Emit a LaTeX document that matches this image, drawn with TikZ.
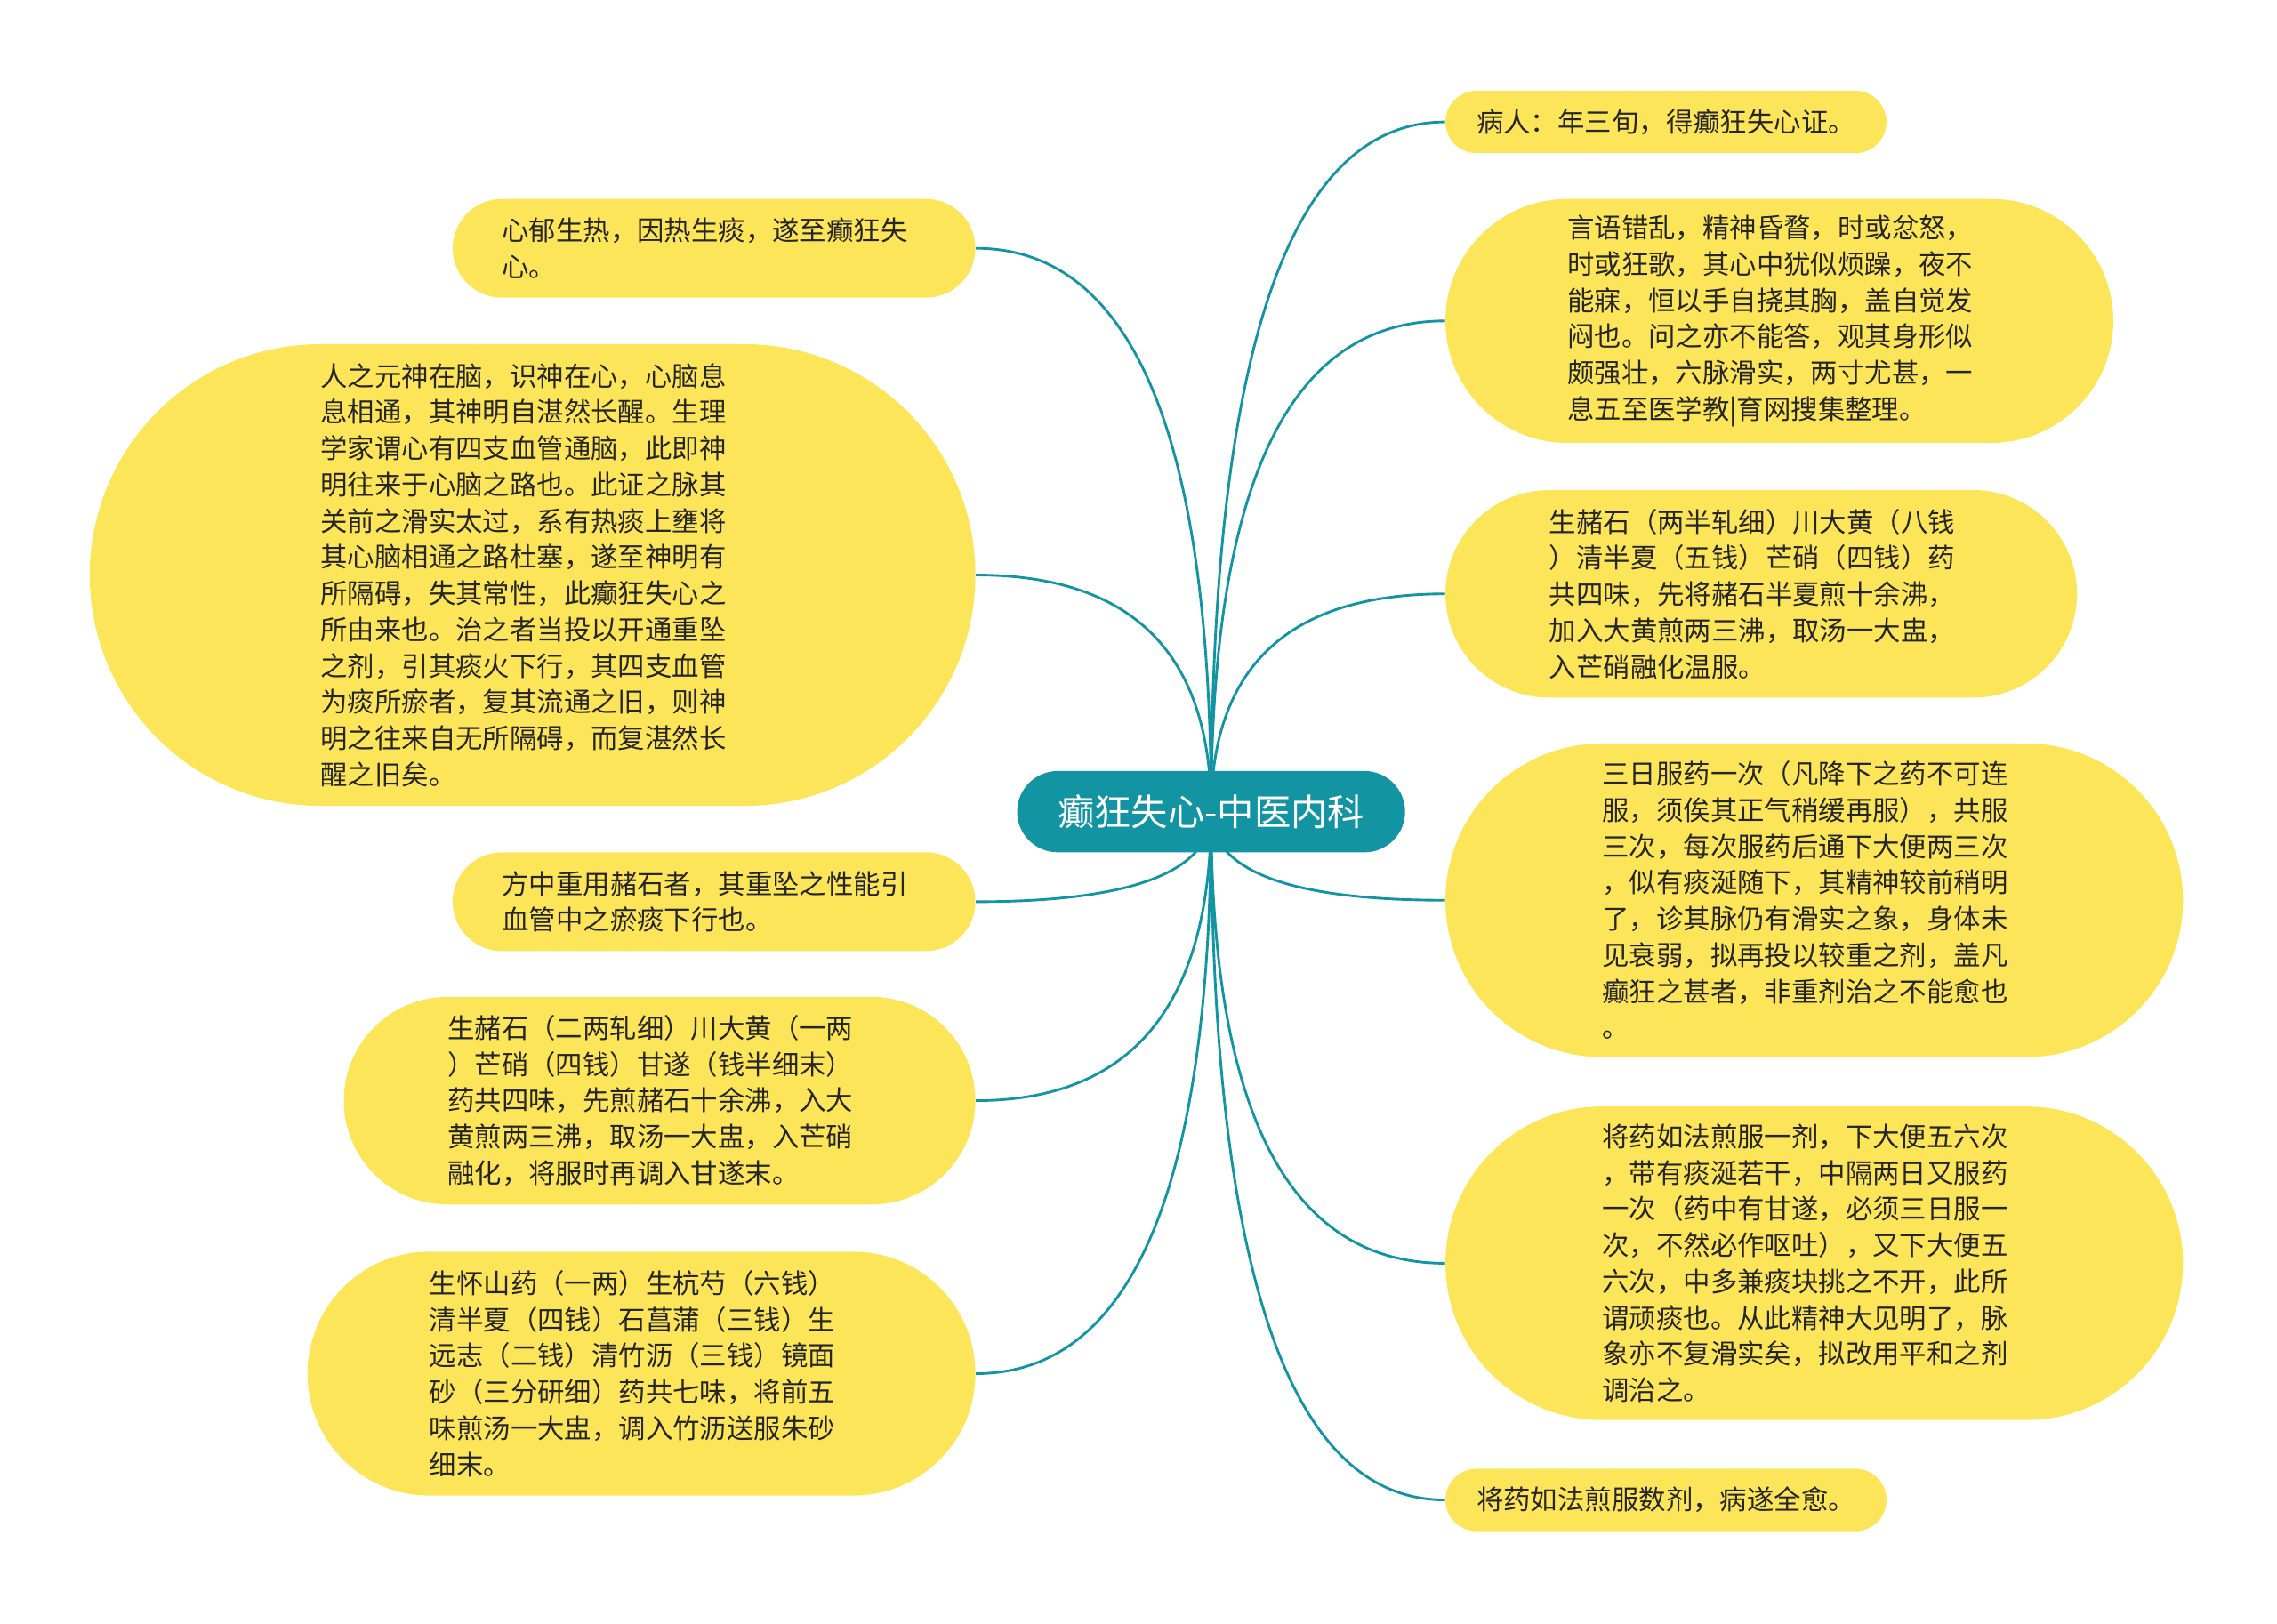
\documentclass[tikz,border=0pt]{standalone}
\usepackage{fontspec}
\setmainfont{Noto Sans CJK SC}
\usepackage{tikz}
\usetikzlibrary{backgrounds,calc}
\definecolor{mindteal}{RGB}{18,148,163}
\definecolor{mindyellow}{RGB}{253,229,90}

\tikzset{
  topic/.style={rectangle, fill=mindyellow, rounded corners=#1, inner xsep=#1, inner ysep=2pt,
    minimum height=2*#1, align=left, text=black!85, font=\fontsize{10.6pt}{14.2pt}\selectfont},
  wide/.style={topic=#1, text width=5.84cm},
  root/.style={rectangle, fill=mindteal, text=white, rounded corners=0.56cm, inner xsep=0.56cm,
    inner ysep=2pt, minimum height=1.12cm, font=\fontsize{14.4pt}{17pt}\selectfont},
  branch/.style={draw=mindteal, line width=1pt}
}
% curved branch from the central topic to an anchor
\newcommand{\branchto}[1]{%
  \draw[branch] (root.center) .. controls ($(root.center)!0.667!(root.center |- #1)$)
    and ($(#1)!0.667!(root.center |- #1)$) .. (#1);}

\begin{document}
\begin{tikzpicture}[x=0.02cm, y=-0.02cm]
\useasboundingbox (0,0) rectangle (1568,1118);

\node[root] (root) at (834,559) {癫狂失心-中医内科};

% left side
\node[wide=0.68cm, anchor=east] (cause) at (672,171) {心郁生热，因热生痰，遂至癫狂失\\心。};
\node[wide=3.18cm, anchor=east] (theory) at (672,396) {人之元神在脑，识神在心，心脑息\\息相通，其神明自湛然长醒。生理\\学家谓心有四支血管通脑，此即神\\明往来于心脑之路也。此证之脉其\\关前之滑实太过，系有热痰上壅将\\其心脑相通之路杜塞，遂至神明有\\所隔碍，失其常性，此癫狂失心之\\所由来也。治之者当投以开通重坠\\之剂，引其痰火下行，其四支血管\\为痰所瘀者，复其流通之旧，则神\\明之往来自无所隔碍，而复湛然长\\醒之旧矣。};
\node[wide=0.68cm, anchor=east] (zheshi) at (672,621) {方中重用赭石者，其重坠之性能引\\血管中之瘀痰下行也。};
\node[wide=1.43cm, anchor=east] (recipetwo) at (672,758) {生赭石（二两轧细）川大黄（一两\\）芒硝（四钱）甘遂（钱半细末）\\药共四味，先煎赭石十余沸，入大\\黄煎两三沸，取汤一大盅，入芒硝\\融化，将服时再调入甘遂末。};
\node[wide=1.68cm, anchor=east] (recipethree) at (672,946) {生怀山药（一两）生杭芍（六钱）\\清半夏（四钱）石菖蒲（三钱）生\\远志（二钱）清竹沥（三钱）镜面\\砂（三分研细）药共七味，将前五\\味煎汤一大盅，调入竹沥送服朱砂\\细末。};

% right side
\node[topic=0.43cm, anchor=west] (patient) at (995,84) {病人：年三旬，得癫狂失心证。};
\node[wide=1.68cm, anchor=west] (symptom) at (995,221) {言语错乱，精神昏瞀，时或忿怒，\\时或狂歌，其心中犹似烦躁，夜不\\能寐，恒以手自挠其胸，盖自觉发\\闷也。问之亦不能答，观其身形似\\颇强壮，六脉滑实，两寸尤甚，一\\息五至医学教|育网搜集整理。};
\node[wide=1.43cm, anchor=west] (recipeone) at (995,409) {生赭石（两半轧细）川大黄（八钱\\）清半夏（五钱）芒硝（四钱）药\\共四味，先将赭石半夏煎十余沸，\\加入大黄煎两三沸，取汤一大盅，\\入芒硝融化温服。};
\node[wide=2.16cm, anchor=west] (dosing) at (995,620) {三日服药一次（凡降下之药不可连\\服，须俟其正气稍缓再服），共服\\三次，每次服药后通下大便两三次\\，似有痰涎随下，其精神较前稍明\\了，诊其脉仍有滑实之象，身体未\\见衰弱，拟再投以较重之剂，盖凡\\癫狂之甚者，非重剂治之不能愈也\\。};
\node[wide=2.16cm, anchor=west] (effect) at (995,870) {将药如法煎服一剂，下大便五六次\\，带有痰涎若干，中隔两日又服药\\一次（药中有甘遂，必须三日服一\\次，不然必作呕吐），又下大便五\\六次，中多兼痰块挑之不开，此所\\谓顽痰也。从此精神大见明了，脉\\象亦不复滑实矣，拟改用平和之剂\\调治之。};
\node[topic=0.43cm, anchor=west] (cured) at (995,1033) {将药如法煎服数剂，病遂全愈。};

\begin{scope}[on background layer]
\branchto{cause.east}
\branchto{theory.east}
\branchto{zheshi.east}
\branchto{recipetwo.east}
\branchto{recipethree.east}
\branchto{patient.west}
\branchto{symptom.west}
\branchto{recipeone.west}
\branchto{dosing.west}
\branchto{effect.west}
\branchto{cured.west}
\end{scope}
\end{tikzpicture}
\end{document}
